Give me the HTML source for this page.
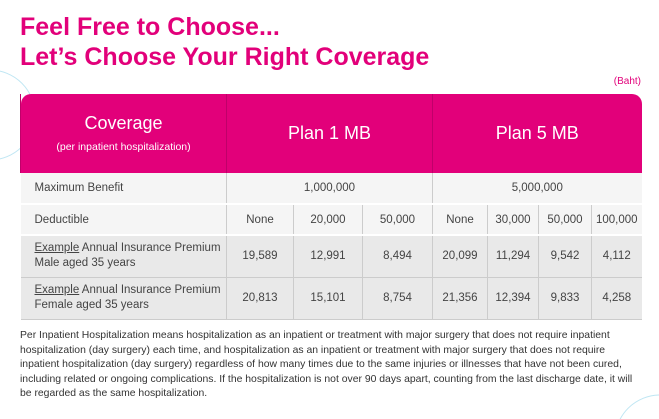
<!DOCTYPE html>
<html><head><style>
body{margin:0;width:659px;height:419px;background:#fff;position:relative;overflow:hidden;font-family:"Liberation Sans","DejaVu Sans",sans-serif}
.t{position:absolute;left:20px;color:#e2007a;font-size:25px;font-weight:bold;line-height:30px}
.baht{position:absolute;right:18px;top:76px;color:#e2007a;font-size:10px}
table{position:absolute;left:20px;top:94px;width:621px;border-collapse:collapse;font-size:11.5px;color:#444;table-layout:fixed}
td{text-align:center;border-left:1px solid #ccc;padding:0;overflow:hidden;white-space:nowrap}
td:first-child{border-left:none;text-align:left;padding-left:14px}
tr.h td{background:#e2007a;color:#fff;height:79px;font-size:18px;border-left:1px solid #c0006a}
tr.h td:first-child{text-align:center;padding:0;border-radius:10px 0 0 0}
tr.h td:last-child{border-radius:0 10px 0 0}
tr.a td{background:#f5f5f5;border-bottom:2px solid #fff}
tr.b td{background:#e9e9e9;border-bottom:1px solid #ccc}
.f{position:absolute;left:20px;top:329px;width:624px;font-size:10.4px;line-height:14.5px;color:#333}
</style></head><body>
<svg style="position:absolute;left:0;top:0" width="659" height="419"><circle cx="-10" cy="115" r="45" fill="none" stroke="#bfe6f3" stroke-width="1"/><circle cx="660" cy="440" r="45" fill="none" stroke="#bfe6f3" stroke-width="1"/></svg>
<div class="t" style="top:12px">Feel Free to Choose...</div>
<div class="t" style="top:42px">Let’s Choose Your Right Coverage</div>
<div class="baht">(Baht)</div>
<table>
<colgroup><col style="width:206px"><col style="width:67px"><col style="width:69px"><col style="width:70px"><col style="width:55px"><col style="width:51px"><col style="width:53px"><col style="width:50px"></colgroup>
<tr class="h"><td>Coverage<br><span style="font-size:10.5px">(per inpatient hospitalization)</span></td><td colspan="3">Plan 1 MB</td><td colspan="4">Plan 5 MB</td></tr>
<tr class="a" style="height:31px"><td>Maximum Benefit</td><td colspan="3">1,000,000</td><td colspan="4">5,000,000</td></tr>
<tr class="a" style="height:31px"><td>Deductible</td><td>None</td><td>20,000</td><td>50,000</td><td>None</td><td>30,000</td><td>50,000</td><td>100,000</td></tr>
<tr class="b" style="height:42px"><td style="line-height:15px"><u>Example</u> Annual Insurance Premium<br>Male aged 35 years</td><td>19,589</td><td>12,991</td><td>8,494</td><td>20,099</td><td>11,294</td><td>9,542</td><td>4,112</td></tr>
<tr class="b" style="height:42px"><td style="line-height:15px"><u>Example</u> Annual Insurance Premium<br>Female aged 35 years</td><td>20,813</td><td>15,101</td><td>8,754</td><td>21,356</td><td>12,394</td><td>9,833</td><td>4,258</td></tr>
</table>
<div class="f">Per Inpatient Hospitalization means hospitalization as an inpatient or treatment with major surgery that does not require inpatient hospitalization (day surgery) each time, and hospitalization as an inpatient or treatment with major surgery that does not require inpatient hospitalization (day surgery) regardless of how many times due to the same injuries or illnesses that have not been cured, including related or ongoing complications. If the hospitalization is not over 90 days apart, counting from the last discharge date, it will be regarded as the same hospitalization.</div>
</body></html>
